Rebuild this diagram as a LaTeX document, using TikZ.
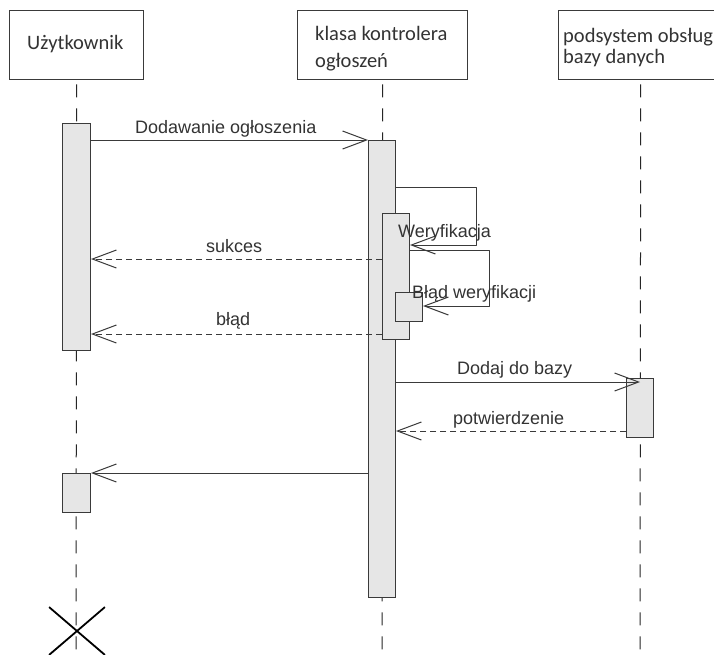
\documentclass[tikz,border=0pt]{standalone}
\usepackage{fontspec}
\setmainfont{Liberation Sans}
\newfontfamily\hdrfont{Carlito}
\usetikzlibrary{arrows.meta,shapes.misc}
\definecolor{actfill}{HTML}{E6E6E6}
\definecolor{ln}{HTML}{3A3A3A}
\definecolor{txt}{HTML}{333333}
\begin{document}
\begin{tikzpicture}[x=1pt,y=-1pt,
 hdr/.style={draw=ln, line width=1.4pt, fill=white, anchor=north west, inner sep=0pt},
 act/.style={draw=ln, line width=1pt, fill=actfill, anchor=north west, inner sep=0pt},
 life/.style={draw=black!85, line width=1pt, dash pattern=on 13pt off 11pt},
 msg/.style={draw=ln, line width=1pt, line join=round, -{Straight Barb[length=24pt,width=18pt]}},
 ret/.style={msg, dash pattern=on 6pt off 4pt},
 lbl/.style={anchor=base west, inner sep=0pt, text=txt, font=\fontsize{18}{21}\selectfont},
 htxt/.style={anchor=base west, inner sep=0pt, text=txt, font=\hdrfont\fontsize{20.5}{24}\selectfont}]
\useasboundingbox (0,0) rectangle (714,654);
\clip (0,0) rectangle (714,654);
\fill[white] (0,0) rectangle (714,654);

% header boxes
\node[hdr, minimum width=134pt, minimum height=69pt] (uh) at (9,10) {};
\node[hdr, minimum width=170pt, minimum height=69pt] (ch) at (297,10) {};
\node[hdr, minimum width=164pt, minimum height=69pt] (dh) at (558,10) {};
\node[htxt] (ut) at (27,49) {Użytkownik};
\node[htxt] (ct1) at (315,40) {klasa kontrolera};
\node[htxt] (ct2) at (315,67) {ogłoszeń};
\node[htxt] (dt1) at (563,42) {podsystem obsług};
\node[htxt] (dt2) at (563,63) {bazy danych};

% lifelines
\coordinate (uend) at (76,660);
\coordinate (cend) at (382,660);
\coordinate (dend) at (640,660);
\draw[life] ([yshift=-4pt]uh.south) -- (uend);
\draw[life] ([yshift=-4pt]ch.south) -- (cend);
\draw[life] ([yshift=-4pt]dh.south) -- (dend);

% activations
\node[act, minimum width=28pt, minimum height=227pt] (a1) at (62,123) {};
\node[act, minimum width=27pt, minimum height=457pt] (c1) at (368,140) {};
\node[act, minimum width=27pt, minimum height=126pt] (c2) at (382,213) {};
\node[act, minimum width=27pt, minimum height=29pt] (c3) at (395,292) {};
\node[act, minimum width=27pt, minimum height=59pt] (d1) at (626,378) {};
\node[act, minimum width=28pt, minimum height=39pt] (a2) at (62,473) {};

% messages
\draw[msg] (a1.east |- 0,140) -- (c1.west |- 0,140);
\draw[msg] (c1.east |- 0,187) -| (476,245) -- (c2.east |- 0,245);
\draw[ret] (c2.west |- 0,259) -- (a1.east |- 0,259);
\draw[msg] (c2.east |- 0,250) -| (489,306) -- (c3.east |- 0,306);
\draw[ret] (c2.west |- 0,334) -- (a1.east |- 0,334);
\draw[msg] (c1.east |- 0,382) -- (d1.north |- 0,382);
\draw[ret] (d1.west |- 0,431) -- (c1.east |- 0,431);
\draw[msg] (c1.west |- 0,473) -- (a2.north east);

% labels
\node[lbl] (l1) at (135,133) {Dodawanie ogłoszenia};
\node[lbl] (l2) at (398,237) {Weryfikacja};
\node[lbl] (l3) at (206,252) {sukces};
\node[lbl] (l4) at (412,298) {Błąd weryfikacji};
\node[lbl] (l5) at (216,325) {błąd};
\node[lbl] (l6) at (457,374) {Dodaj do bazy};
\node[lbl] (l7) at (453,424) {potwierdzenie};

% destruction
\node[cross out, draw=black, line width=1.8pt, minimum width=54pt, minimum height=46pt, inner sep=0pt] (x) at (77,631) {};
\end{tikzpicture}
\end{document}
